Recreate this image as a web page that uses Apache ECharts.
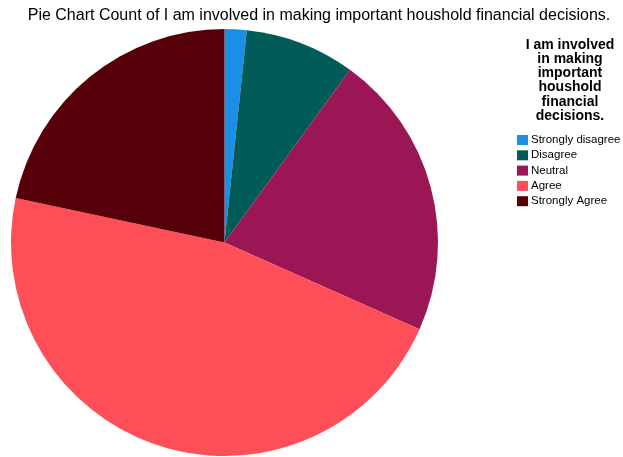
<!DOCTYPE html>
<html>
<head>
<meta charset="utf-8">
<script src="https://cdn.jsdelivr.net/npm/echarts@6/dist/echarts.min.js"></script>
<style>
  html, body { margin: 0; padding: 0; background: #fff; }
  #chart { width: 623px; height: 457px; }
</style>
</head>
<body>
<div id="chart"></div>
<script>
// Response categories and their counts
const categories = ['Strongly disagree', 'Disagree', 'Neutral', 'Agree', 'Strongly Agree'];
const counts = [1, 5, 13, 28, 13];
const colors = ['#1b8fe6', '#015b59', '#9b1654', '#fe4f59', '#570009'];

const chartTitle = 'Pie Chart Count of I am involved in making important houshold financial decisions.';
const legendTitle = 'I am involved\nin making\nimportant\nhoushold\nfinancial\ndecisions.';

const chart = echarts.init(document.getElementById('chart'), null, { renderer: 'canvas' });

chart.setOption({
  animation: false,
  backgroundColor: '#ffffff',
  color: colors,
  title: [
    {
      text: chartTitle,
      left: 319,
      top: 8,
      padding: 0,
      textAlign: 'center',
      textStyle: {
        fontFamily: 'Liberation Sans, Arial, sans-serif',
        fontSize: 16,
        fontWeight: 'normal',
        color: '#000'
      }
    },
    {
      text: legendTitle,
      left: 570,
      top: 37.5,
      padding: 0,
      textAlign: 'center',
      textStyle: {
        fontFamily: 'Liberation Sans, Arial, sans-serif',
        fontSize: 14,
        fontWeight: 'bold',
        lineHeight: 14.3,
        color: '#000'
      }
    }
  ],
  legend: {
    orient: 'vertical',
    left: 517,
    top: 134,
    padding: 0,
    itemWidth: 11,
    itemHeight: 10,
    itemGap: 3.3,
    icon: 'rect',
    selectedMode: false,
    data: categories,
    textStyle: {
      fontFamily: 'Liberation Sans, Arial, sans-serif',
      fontSize: 11.5,
      color: '#000',
      padding: [0, 0, 0, -2]
    }
  },
  series: [
    {
      type: 'pie',
      center: [224.5, 242.5],
      radius: 213.5,
      startAngle: 90,
      clockwise: true,
      label: { show: false },
      labelLine: { show: false },
      emphasis: { disabled: true },
      itemStyle: { borderWidth: 0 },
      data: categories.map((name, i) => ({ name, value: counts[i] }))
    }
  ]
});
</script>
</body>
</html>
